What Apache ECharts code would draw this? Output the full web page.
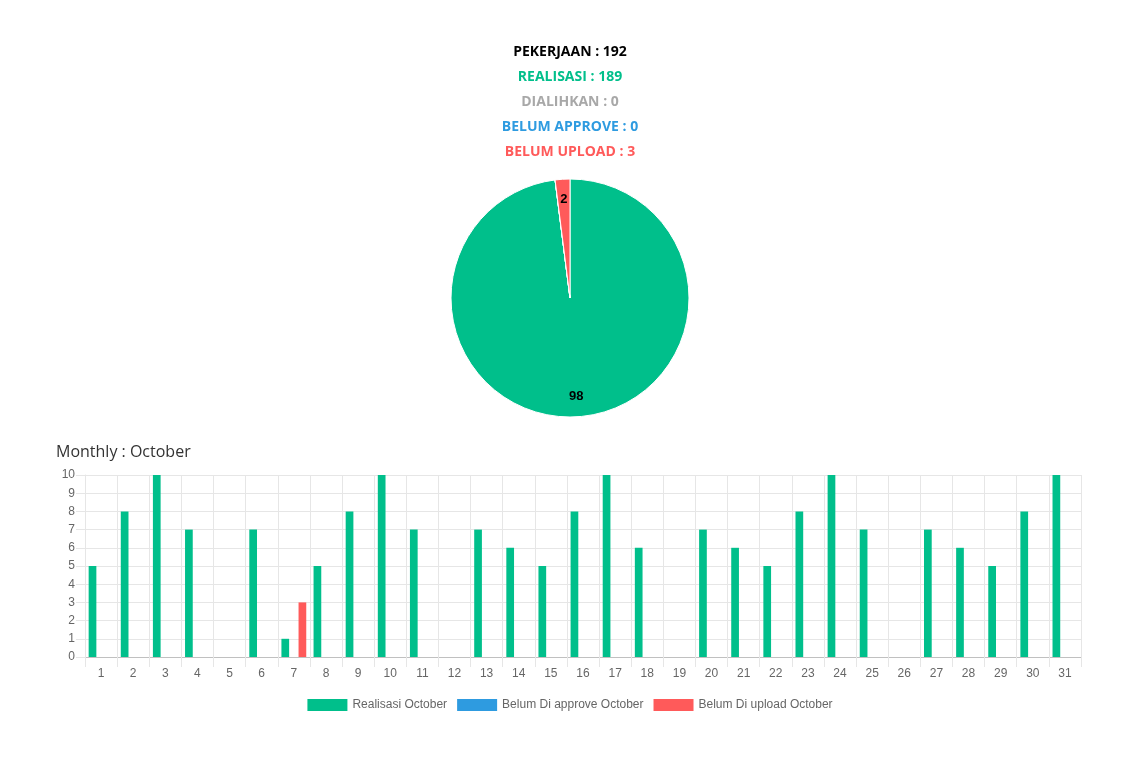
<!DOCTYPE html>
<html>
<head>
<meta charset="utf-8">
<script src="https://cdn.jsdelivr.net/npm/echarts@6/dist/echarts.min.js"></script>
<style>
html,body{margin:0;padding:0;background:#fff;}
#c{width:1140px;height:763px;}
</style>
</head>
<body>
<div id="c"></div>
<script>
var days = ['1','2','3','4','5','6','7','8','9','10','11','12','13','14','15','16','17','18','19','20','21','22','23','24','25','26','27','28','29','30','31'];
var realisasi = [5,8,10,7,0,7,1,5,8,10,7,0,7,6,5,8,10,6,0,7,6,5,8,10,7,0,7,6,5,8,10];
var belumApprove = [0,0,0,0,0,0,0,0,0,0,0,0,0,0,0,0,0,0,0,0,0,0,0,0,0,0,0,0,0,0,0];
var belumUpload = [0,0,0,0,0,0,3,0,0,0,0,0,0,0,0,0,0,0,0,0,0,0,0,0,0,0,0,0,0,0,0];
var seriesNames = ['Realisasi October','Belum Di approve October','Belum Di upload October'];
var yTicks = [0,1,2,3,4,5,6,7,8,9,10];

var pieNames = ['Realisasi','Dialihkan','Belum Approve','Belum Upload'];
var piePercents = [98,0,0,2];
var summaryLabels = ['PEKERJAAN : 192','REALISASI : 189','DIALIHKAN : 0','BELUM APPROVE : 0','BELUM UPLOAD : 3'];
var monthlyTitle = 'Monthly : October';

var GREEN = '#00bf8b', BLUE = '#2e9be0', RED = '#ff5a5a', GRAY = '#a8a8a8';
var pieColors = [GREEN, GRAY, BLUE, RED];
var summaryColors = ['#000000', GREEN, GRAY, BLUE, RED];

var chart = echarts.init(document.getElementById('c'));

var pieData = pieNames.map(function(n,i){return {name:n, value:piePercents[i], itemStyle:{color:pieColors[i]}};});

var graphics = summaryLabels.map(function(t,i){
  return {type:'text', x:570, y:52 + i*25, style:{text:t, fill:summaryColors[i], font:'bold 14px "Open Sans", sans-serif', textAlign:'center', textVerticalAlign:'middle'}};
});
graphics.push({type:'text', x:56, y:452, style:{text:monthlyTitle, fill:'#333', font:'500 16px "Open Sans", sans-serif', textAlign:'left', textVerticalAlign:'middle'}});

var barBase = {type:'bar', barWidth:'24%', barGap:'11%', xAxisIndex:0, yAxisIndex:0};

chart.setOption({
  animation:false,
  graphic: graphics,
  legend:{
    data: seriesNames,
    top: 694,
    left: 'center',
    itemWidth: 40,
    itemHeight: 12,
    itemGap: 10,
    icon: 'rect',
    textStyle:{color:'#666', fontSize:12, fontFamily:'"Liberation Sans", Arial, sans-serif'}
  },
  grid:{left:85, right:59, top:475, bottom:106, containLabel:false},
  xAxis:{
    type:'category',
    data: days,
    boundaryGap:true,
    axisLine:{show:true, lineStyle:{color:'#c0c0c0', width:1}},
    axisTick:{show:true, length:10, interval:0, lineStyle:{color:'#e6e6e6'}},
    axisLabel:{color:'#666', fontSize:12, fontFamily:'"Liberation Sans", Arial, sans-serif', margin:11, interval:0},
    splitLine:{show:true, interval:0, lineStyle:{color:'#e6e6e6'}}
  },
  yAxis:{
    type:'value',
    min: yTicks[0],
    max: yTicks[yTicks.length-1],
    interval:1,
    axisLine:{show:true, lineStyle:{color:'#e6e6e6'}},
    axisTick:{show:true, length:9, lineStyle:{color:'#e6e6e6'}},
    axisLabel:{color:'#666', fontSize:12, fontFamily:'"Liberation Sans", Arial, sans-serif', margin:10},
    splitLine:{show:true, lineStyle:{color:'#e6e6e6'}}
  },
  series:[
    Object.assign({}, barBase, {name:seriesNames[0], data:realisasi, itemStyle:{color:GREEN}}),
    Object.assign({}, barBase, {name:seriesNames[1], data:belumApprove, itemStyle:{color:BLUE}}),
    Object.assign({}, barBase, {name:seriesNames[2], data:belumUpload, itemStyle:{color:RED}}),
    {
      type:'pie', center:[570,298], radius:[0,119], startAngle:90, clockwise:true,
      avoidLabelOverlap:false, silent:true, legendHoverLink:false,
      itemStyle:{borderColor:'#fff', borderWidth:1},
      label:{show:false}, labelLine:{show:false},
      data: pieData
    },
    {
      type:'pie', center:[570,298], radius:[72,119], startAngle:90, clockwise:true,
      avoidLabelOverlap:false, silent:true, legendHoverLink:false,
      itemStyle:{color:'rgba(0,0,0,0)', borderWidth:0},
      label:{show:true, position:'inside', color:'#000', fontWeight:'bold', fontSize:13,
        fontFamily:'"Liberation Sans", Arial, sans-serif',
        formatter:function(p){ return p.value ? String(p.value) : ''; }},
      labelLine:{show:false},
      data: pieNames.map(function(n,i){return {name:n+' ', value:piePercents[i], itemStyle:{color:'rgba(0,0,0,0)'}};})
    }
  ]
});
</script>
</body>
</html>
